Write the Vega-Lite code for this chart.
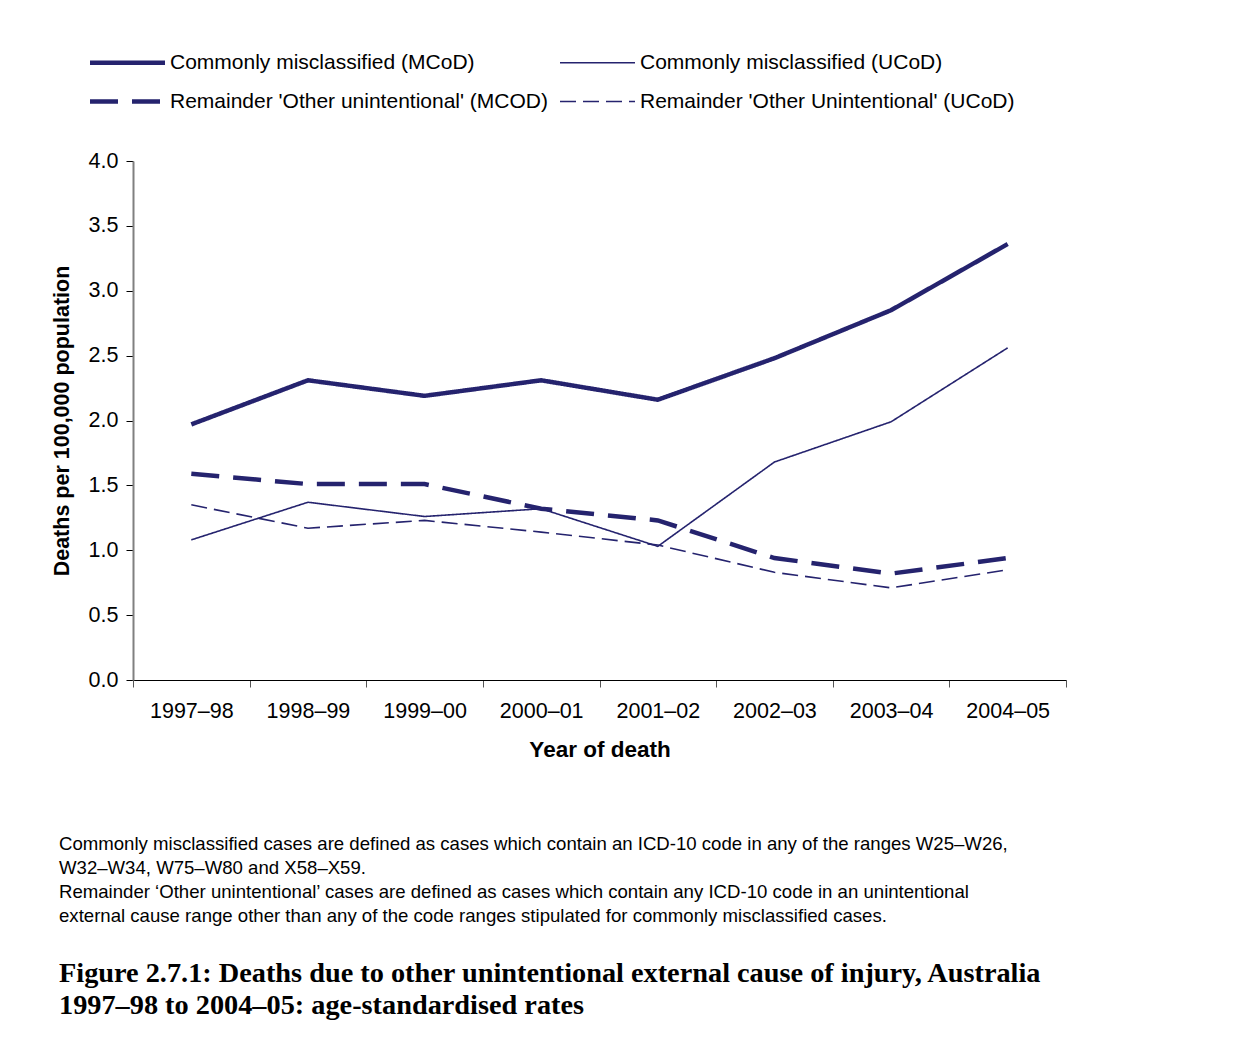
{
  "$schema": "https://vega.github.io/schema/vega-lite/v6.json",
  "width": 933,
  "height": 519,
  "autosize": {"type": "none"},
  "padding": {"left": 133, "top": 161, "right": 169, "bottom": 370},
  "background": "white",
  "config": {"view": {"stroke": null}, "font": "Liberation Sans"},
  "title": {
    "text": [
      "Commonly misclassified cases are defined as cases which contain an ICD-10 code in any of the ranges W25–W26,",
      "W32–W34, W75–W80 and X58–X59.",
      "Remainder ‘Other unintentional’ cases are defined as cases which contain any ICD-10 code in an unintentional",
      "external cause range other than any of the code ranges stipulated for commonly misclassified cases."
    ],
    "subtitle": [
      "Figure 2.7.1: Deaths due to other unintentional external cause of injury, Australia",
      "1997–98 to 2004–05: age-standardised rates"
    ],
    "orient": "bottom",
    "anchor": "start",
    "frame": "group",
    "dx": -74,
    "offset": 74,
    "font": "Liberation Sans",
    "fontSize": 18.6,
    "fontWeight": "normal",
    "color": "black",
    "lineHeight": 24,
    "subtitleFont": "Liberation Serif",
    "subtitleFontSize": 28.3,
    "subtitleFontWeight": "bold",
    "subtitleColor": "black",
    "subtitleLineHeight": 32,
    "subtitlePadding": 34
  },
  "data": {
    "values": [
      {"year": "1997–98", "series": "Commonly misclassified (MCoD)", "value": 1.97},
      {"year": "1998–99", "series": "Commonly misclassified (MCoD)", "value": 2.31},
      {"year": "1999–00", "series": "Commonly misclassified (MCoD)", "value": 2.19},
      {"year": "2000–01", "series": "Commonly misclassified (MCoD)", "value": 2.31},
      {"year": "2001–02", "series": "Commonly misclassified (MCoD)", "value": 2.16},
      {"year": "2002–03", "series": "Commonly misclassified (MCoD)", "value": 2.48},
      {"year": "2003–04", "series": "Commonly misclassified (MCoD)", "value": 2.85},
      {"year": "2004–05", "series": "Commonly misclassified (MCoD)", "value": 3.36},
      {"year": "1997–98", "series": "Commonly misclassified (UCoD)", "value": 1.08},
      {"year": "1998–99", "series": "Commonly misclassified (UCoD)", "value": 1.37},
      {"year": "1999–00", "series": "Commonly misclassified (UCoD)", "value": 1.26},
      {"year": "2000–01", "series": "Commonly misclassified (UCoD)", "value": 1.32},
      {"year": "2001–02", "series": "Commonly misclassified (UCoD)", "value": 1.03},
      {"year": "2002–03", "series": "Commonly misclassified (UCoD)", "value": 1.68},
      {"year": "2003–04", "series": "Commonly misclassified (UCoD)", "value": 1.99},
      {"year": "2004–05", "series": "Commonly misclassified (UCoD)", "value": 2.56},
      {"year": "1997–98", "series": "Remainder 'Other unintentional' (MCOD)", "value": 1.59},
      {"year": "1998–99", "series": "Remainder 'Other unintentional' (MCOD)", "value": 1.51},
      {"year": "1999–00", "series": "Remainder 'Other unintentional' (MCOD)", "value": 1.51},
      {"year": "2000–01", "series": "Remainder 'Other unintentional' (MCOD)", "value": 1.32},
      {"year": "2001–02", "series": "Remainder 'Other unintentional' (MCOD)", "value": 1.23},
      {"year": "2002–03", "series": "Remainder 'Other unintentional' (MCOD)", "value": 0.94},
      {"year": "2003–04", "series": "Remainder 'Other unintentional' (MCOD)", "value": 0.82},
      {"year": "2004–05", "series": "Remainder 'Other unintentional' (MCOD)", "value": 0.94},
      {"year": "1997–98", "series": "Remainder 'Other Unintentional'  (UCoD)", "value": 1.35},
      {"year": "1998–99", "series": "Remainder 'Other Unintentional'  (UCoD)", "value": 1.17},
      {"year": "1999–00", "series": "Remainder 'Other Unintentional'  (UCoD)", "value": 1.23},
      {"year": "2000–01", "series": "Remainder 'Other Unintentional'  (UCoD)", "value": 1.14},
      {"year": "2001–02", "series": "Remainder 'Other Unintentional'  (UCoD)", "value": 1.04},
      {"year": "2002–03", "series": "Remainder 'Other Unintentional'  (UCoD)", "value": 0.83},
      {"year": "2003–04", "series": "Remainder 'Other Unintentional'  (UCoD)", "value": 0.71},
      {"year": "2004–05", "series": "Remainder 'Other Unintentional'  (UCoD)", "value": 0.85}
    ]
  },
  "mark": {"type": "line", "color": "#25236e", "strokeCap": "butt", "strokeJoin": "miter"},
  "encoding": {
    "x": {
      "field": "year",
      "type": "nominal",
      "sort": null,
      "scale": {"type": "band", "paddingInner": 0, "paddingOuter": 0},
      "axis": {
        "title": "Year of death",
        "titleFont": "Liberation Sans",
        "titleFontSize": 22.5,
        "titleFontWeight": "bold",
        "titleColor": "black",
        "titlePadding": 17,
        "labelAngle": 0,
        "labelFont": "Liberation Sans",
        "labelFontSize": 21.5,
        "labelColor": "black",
        "labelPadding": 13,
        "tickBand": "extent",
        "tickSize": 7,
        "tickColor": "#555555",
        "domainColor": "black",
        "domainWidth": 1,
        "grid": false
      }
    },
    "y": {
      "field": "value",
      "type": "quantitative",
      "scale": {"domain": [0, 4], "nice": false},
      "axis": {
        "title": "Deaths per 100,000 population",
        "titleFont": "Liberation Sans",
        "titleFontSize": 21.5,
        "titleFontWeight": "bold",
        "titleColor": "black",
        "titlePadding": 15,
        "values": [0, 0.5, 1, 1.5, 2, 2.5, 3, 3.5, 4],
        "format": ".1f",
        "labelFont": "Liberation Sans",
        "labelFontSize": 21.5,
        "labelColor": "black",
        "labelPadding": 8,
        "tickSize": 7,
        "tickColor": "black",
        "domainColor": "#808080",
        "domainWidth": 2,
        "grid": false
      }
    },
    "strokeWidth": {
      "field": "series",
      "type": "nominal",
      "scale": {
        "type": "ordinal",
        "domain": ["Commonly misclassified (MCoD)", "Commonly misclassified (UCoD)", "Remainder 'Other unintentional' (MCOD)", "Remainder 'Other Unintentional'  (UCoD)"],
        "range": [4.5, 1.6, 4.5, 1.6]
      },
      "legend": {
        "title": null,
        "orient": "none",
        "legendX": -43,
        "legendY": -109,
        "direction": "horizontal",
        "columns": 2,
        "columnPadding": 8,
        "rowPadding": 17,
        "symbolType": "M-37.5,0L37.5,0",
        "symbolSize": 4,
        "symbolStrokeColor": "#25236e",
        "symbolOffset": 27,
        "labelOffset": 32,
        "labelFont": "Liberation Sans",
        "labelFontSize": 21,
        "labelColor": "black",
        "labelLimit": 600
      }
    },
    "strokeDash": {
      "field": "series",
      "type": "nominal",
      "scale": {
        "domain": ["Commonly misclassified (MCoD)", "Commonly misclassified (UCoD)", "Remainder 'Other unintentional' (MCOD)", "Remainder 'Other Unintentional'  (UCoD)"],
        "range": [[1, 0], [1, 0], [28, 14], [16, 7]]
      },
      "legend": {
        "title": null,
        "orient": "none",
        "legendX": -43,
        "legendY": -109,
        "direction": "horizontal",
        "columns": 2,
        "columnPadding": 8,
        "rowPadding": 17,
        "symbolType": "M-37.5,0L37.5,0",
        "symbolSize": 4,
        "symbolStrokeColor": "#25236e",
        "symbolOffset": 27,
        "labelOffset": 32,
        "labelFont": "Liberation Sans",
        "labelFontSize": 21,
        "labelColor": "black",
        "labelLimit": 600
      }
    }
  }
}
